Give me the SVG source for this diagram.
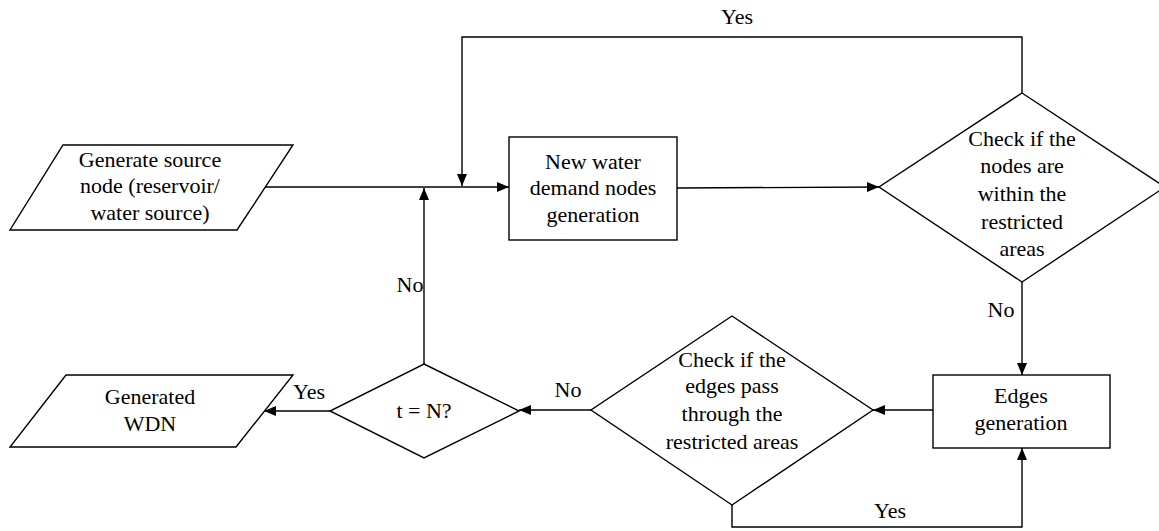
<svg xmlns="http://www.w3.org/2000/svg" width="1159" height="531" viewBox="0 0 1159 531">
<style>
.s{fill:#fff;stroke:#000;stroke-width:1.4}
.t{font-family:'Liberation Serif','Times New Roman','DejaVu Serif',serif;font-size:22px;fill:#000;text-anchor:middle}
.c{fill:none;stroke:#000;stroke-width:1.4}
</style>
<defs>
<marker id="a" viewBox="0 0 12 10" refX="12" refY="5" markerWidth="12" markerHeight="10" markerUnits="userSpaceOnUse" orient="auto">
<path d="M0,0 L12,5 L0,10 Z" fill="#000"/>
</marker>
</defs>
<rect width="1159" height="531" fill="#fff"/>
<g id="connectors">
<path class="c" d="M265,187 L509,187" marker-end="url(#a)"/>
<path class="c" d="M1022,93 L1022,37 L462,37 L462,186" marker-end="url(#a)"/>
<path class="c" d="M424,364 L424,188" marker-end="url(#a)"/>
<path class="c" d="M677,188 L879,187" marker-end="url(#a)"/>
<path class="c" d="M1022,282 L1022,375" marker-end="url(#a)"/>
<path class="c" d="M933,410 L873,410" marker-end="url(#a)"/>
<path class="c" d="M591,410 L519,410" marker-end="url(#a)"/>
<path class="c" d="M330,411 L264,411" marker-end="url(#a)"/>
<path class="c" d="M732,505 L732,527 L1022,527 L1022,448" marker-end="url(#a)"/>
<text class="t" x="737" y="24">Yes</text>
<text class="t" x="410" y="292">No</text>
<text class="t" x="1001" y="317">No</text>
<text class="t" x="568" y="397">No</text>
<text class="t" x="309" y="399">Yes</text>
<text class="t" x="890" y="518">Yes</text>
</g>
<g id="source">
<polygon class="s" points="63,145 293,145 237,230 10,230"/>
<text class="t" x="150" y="167">Generate source</text>
<text class="t" x="150" y="193">node (reservoir/</text>
<text class="t" x="150" y="220">water source)</text>
</g>
<g id="newnodes">
<rect class="s" x="509" y="137" width="168" height="103"/>
<text class="t" x="593" y="169">New water</text>
<text class="t" x="593" y="195">demand nodes</text>
<text class="t" x="593" y="222">generation</text>
</g>
<g id="checknodes">
<polygon class="s" points="1022,93 1165,187 1022,282 879,187"/>
<text class="t" x="1022" y="146">Check if the</text>
<text class="t" x="1022" y="173">nodes are</text>
<text class="t" x="1022" y="201">within the</text>
<text class="t" x="1022" y="229">restricted</text>
<text class="t" x="1022" y="256">areas</text>
</g>
<g id="edges">
<rect class="s" x="933" y="375" width="177" height="73"/>
<text class="t" x="1021" y="403">Edges</text>
<text class="t" x="1021" y="430">generation</text>
</g>
<g id="checkedges">
<polygon class="s" points="732,316 873,410 732,505 591,410"/>
<text class="t" x="732" y="367">Check if the</text>
<text class="t" x="732" y="393">edges pass</text>
<text class="t" x="732" y="421">through the</text>
<text class="t" x="732" y="449">restricted areas</text>
</g>
<g id="tn">
<polygon class="s" points="424,364 519,411 424,458 330,411"/>
<text class="t" x="424" y="418">t = N?</text>
</g>
<g id="output">
<polygon class="s" points="66,375 293,375 236,447 10,447"/>
<text class="t" x="150" y="404">Generated</text>
<text class="t" x="150" y="431">WDN</text>
</g>
</svg>
